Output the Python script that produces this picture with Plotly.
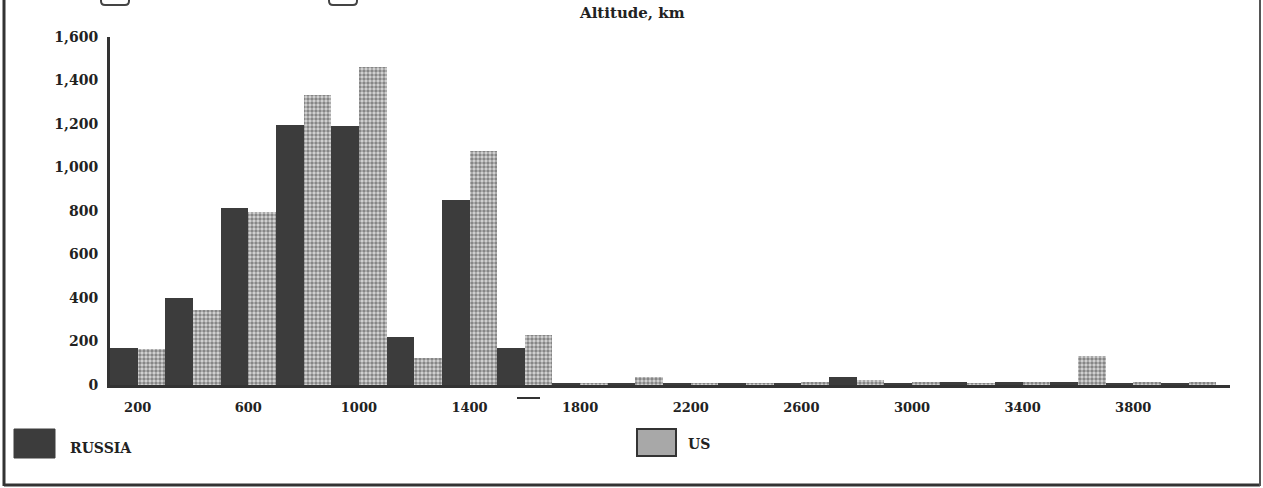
import plotly.graph_objects as go

# ---- data ----
altitude_km = [200, 400, 600, 800, 1000, 1200, 1400, 1600, 1800, 2000,
               2200, 2400, 2600, 2800, 3000, 3200, 3400, 3600, 3800, 4000]
russia = [170, 400, 815, 1195, 1190, 220, 850, 170, 8, 8,
          8, 10, 10, 38, 10, 12, 15, 15, 10, 10]
us = [165, 345, 795, 1335, 1460, 125, 1075, 230, 10, 35,
      10, 10, 12, 25, 12, 10, 12, 135, 15, 15]
x_tick_vals = [200, 600, 1000, 1400, 1800, 2200, 2600, 3000, 3400, 3800]
x_tick_text = ["200", "600", "1000", "1400", "1800", "2200", "2600", "3000", "3400", "3800"]
y_tick_vals = [0, 200, 400, 600, 800, 1000, 1200, 1400, 1600]
series_names = ["RUSSIA", "US"]
title_text = "Altitude, km"

# ---- layout geometry (pixels) ----
W, H = 1263, 488
ML, MR, MT, MB = 110, 33, 37, 103
PW, PH = W - ML - MR, H - MT - MB


def px_x(px):
    return (px - ML) / PW


def px_y(py):
    return (H - MB - py) / PH


FONT = "DejaVu Serif"
DARK = "#3c3c3c"

fig = go.Figure()
fig.add_trace(go.Bar(
    x=altitude_km, y=russia, name=series_names[0],
    marker=dict(color=DARK, line=dict(width=0)),
    showlegend=False,
))
fig.add_trace(go.Bar(
    x=altitude_km, y=us, name=series_names[1],
    marker=dict(color="#d8d8d8", line=dict(width=0),
                pattern=dict(shape=".", fgcolor="#333333", bgcolor="#d8d8d8",
                             size=4, solidity=0.6)),
    showlegend=False,
))

shapes = []
# outer frame (left, bottom, right)
shapes.append(dict(type="line", xref="paper", yref="paper",
                   x0=px_x(4), x1=px_x(4), y0=px_y(0), y1=px_y(486),
                   line=dict(color="#333", width=3)))
shapes.append(dict(type="line", xref="paper", yref="paper",
                   x0=px_x(4), x1=px_x(1260), y0=px_y(485), y1=px_y(485),
                   line=dict(color="#333", width=3)))
shapes.append(dict(type="line", xref="paper", yref="paper",
                   x0=px_x(1260), x1=px_x(1260), y0=px_y(0), y1=px_y(486),
                   line=dict(color="#555", width=2)))
# cut-off rounded boxes at the very top
for a, b in [(101, 129), (329, 357)]:
    path = (f"M {px_x(a)},{px_y(0)} L {px_x(a)},{px_y(1)} "
            f"Q {px_x(a)},{px_y(5)} {px_x(a + 4)},{px_y(5)} "
            f"L {px_x(b - 4)},{px_y(5)} Q {px_x(b)},{px_y(5)} {px_x(b)},{px_y(1)} "
            f"L {px_x(b)},{px_y(0)}")
    shapes.append(dict(type="path", xref="paper", yref="paper", path=path,
                       line=dict(color="#444", width=2)))
# stray dash near x labels
shapes.append(dict(type="line", xref="paper", yref="paper",
                   x0=px_x(517), x1=px_x(540), y0=px_y(398), y1=px_y(398),
                   line=dict(color="#333", width=2)))
# legend swatches
shapes.append(dict(type="rect", xref="paper", yref="paper",
                   x0=px_x(14), x1=px_x(55), y0=px_y(429), y1=px_y(458),
                   fillcolor=DARK, line=dict(color=DARK, width=1)))
shapes.append(dict(type="rect", xref="paper", yref="paper",
                   x0=px_x(637), x1=px_x(676), y0=px_y(429), y1=px_y(456),
                   fillcolor="#a8a8a8", line=dict(color="#333", width=2)))

annotations = [
    dict(text=f"<b>{title_text}</b>", xref="paper", yref="paper",
         x=px_x(632), y=px_y(13), xanchor="center", yanchor="middle",
         showarrow=False, font=dict(family=FONT, size=15, color="#222")),
    dict(text=f"<b>{series_names[0]}</b>", xref="paper", yref="paper",
         x=px_x(68), y=px_y(448), xanchor="left", yanchor="middle",
         showarrow=False, font=dict(family=FONT, size=14, color="#222")),
    dict(text=f"<b>{series_names[1]}</b>", xref="paper", yref="paper",
         x=px_x(686), y=px_y(444), xanchor="left", yanchor="middle",
         showarrow=False, font=dict(family=FONT, size=14, color="#222")),
]

fig.update_layout(
    width=W, height=H,
    margin=dict(l=ML, r=MR, t=MT, b=MB, pad=0),
    paper_bgcolor="white", plot_bgcolor="white",
    barmode="group", bargap=0, bargroupgap=0,
    font=dict(family=FONT, size=13, color="#222"),
    shapes=shapes, annotations=annotations,
    showlegend=False,
)
fig.update_xaxes(
    range=[100, 4150], tickvals=x_tick_vals, ticktext=x_tick_text,
    showgrid=False, zeroline=False, showline=True, linecolor="#333", linewidth=3,
    ticks="", ticklabelstandoff=8,
    tickfont=dict(family=FONT, size=13, color="#222", weight="bold"),
)
fig.update_yaxes(
    range=[0, 1600], tickvals=y_tick_vals, tickformat=",",
    showgrid=False, zeroline=False, showline=True, linecolor="#333", linewidth=3,
    ticks="", ticklabelstandoff=6,
    tickfont=dict(family=FONT, size=14, color="#222", weight="bold"),
)

fig.write_html("out.html", config={"displayModeBar": False},
               post_script="document.body.style.margin='0px';")
